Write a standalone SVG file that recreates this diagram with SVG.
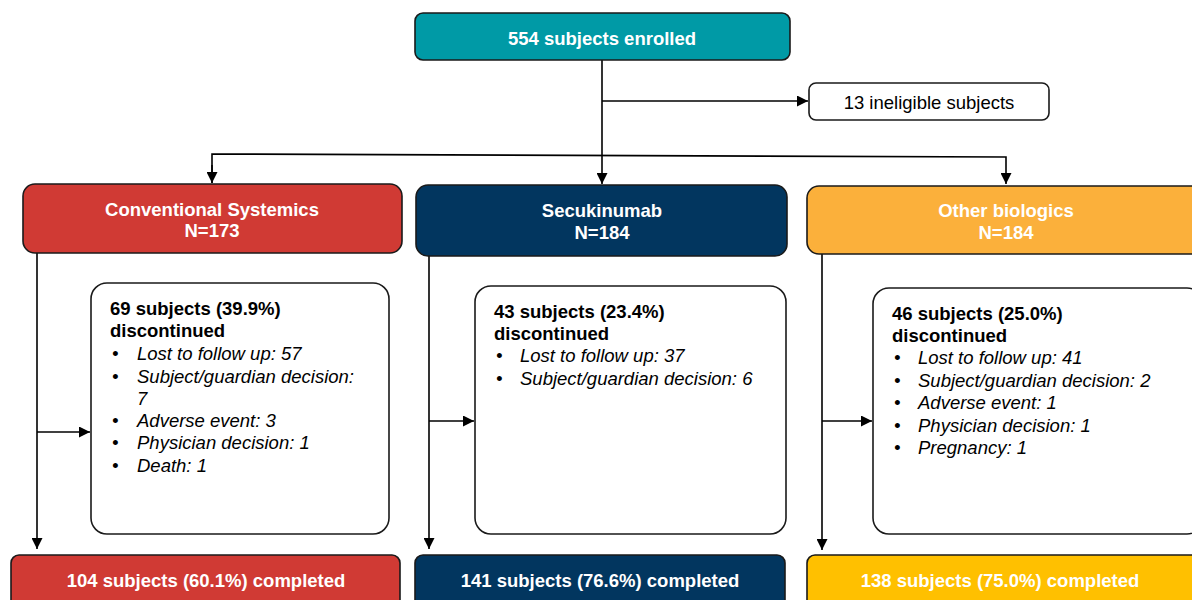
<svg xmlns="http://www.w3.org/2000/svg" width="1192" height="600" viewBox="0 0 1192 600">
<defs>
<marker id="arr" viewBox="0 0 10 10" refX="10" refY="5" markerWidth="11" markerHeight="11" markerUnits="userSpaceOnUse" orient="auto">
<path d="M0,0 L10,5 L0,10 z" fill="#000"/>
</marker>
<style>
.box{stroke:#1a1a1a;stroke-width:1.6}
.t{font-family:"Liberation Sans",Arial,sans-serif;font-size:18.5px}
.w{fill:#fff;font-weight:bold;text-anchor:middle}
.b{font-weight:bold;fill:#000}
.i{font-style:italic;fill:#000}
.c{fill:none;stroke:#000;stroke-width:1.6}
</style>
</defs>
<rect width="1192" height="600" fill="#fff"/>
<g id="connectors">
<path class="c" d="M602,60 V184" marker-end="url(#arr)"/>
<path class="c" d="M602,101 H808" marker-end="url(#arr)"/>
<path class="c" d="M212,183 V154 L1006,157 V184" marker-end="url(#arr)"/>
<path class="c" d="M212,165 V183" marker-end="url(#arr)"/>
<path class="c" d="M37,253 V549" marker-end="url(#arr)"/>
<path class="c" d="M37,432 H90" marker-end="url(#arr)"/>
<path class="c" d="M429,256 V549" marker-end="url(#arr)"/>
<path class="c" d="M429,421 H474" marker-end="url(#arr)"/>
<path class="c" d="M822,254 V550" marker-end="url(#arr)"/>
<path class="c" d="M822,421 H872" marker-end="url(#arr)"/>
</g>
<g id="enrolled">
<rect class="box" x="415" y="13" width="375" height="47" rx="8" fill="#009AA6"/>
<text class="t w" x="602" y="44.5">554 subjects enrolled</text>
</g>
<g id="ineligible">
<rect class="box" x="809" y="83" width="240" height="37" rx="7" fill="#fff"/>
<text class="t" x="929" y="108.5" text-anchor="middle" fill="#000">13 ineligible subjects</text>
</g>
<g id="conv">
<rect class="box" x="23" y="184" width="379" height="69" rx="12" fill="#D03A34"/>
<text class="t w" x="212" y="216">Conventional Systemics</text>
<text class="t w" x="212" y="237">N=173</text>
</g>
<g id="secu">
<rect class="box" x="416" y="185" width="371" height="71" rx="12" fill="#02365F"/>
<text class="t w" x="602" y="217">Secukinumab</text>
<text class="t w" x="602" y="239">N=184</text>
</g>
<g id="other">
<rect class="box" x="807" y="186" width="400" height="68" rx="12" fill="#FBB03B"/>
<text class="t w" x="1006" y="217">Other biologics</text>
<text class="t w" x="1006" y="239">N=184</text>
</g>
<g id="disc1">
<rect class="box" x="91" y="283" width="298" height="251" rx="16" fill="#fff"/>
<text class="t b" x="110" y="314.5">69 subjects (39.9%)</text>
<text class="t b" x="110" y="336.5">discontinued</text>
<g class="t i">
<text x="112" y="359.5"><tspan>•</tspan><tspan x="137">Lost to follow up: 57</tspan></text>
<text x="112" y="382.5"><tspan>•</tspan><tspan x="137">Subject/guardian decision:</tspan></text>
<text x="137" y="404.5">7</text>
<text x="112" y="426.5"><tspan>•</tspan><tspan x="137">Adverse event: 3</tspan></text>
<text x="112" y="448.5"><tspan>•</tspan><tspan x="137">Physician decision: 1</tspan></text>
<text x="112" y="471.5"><tspan>•</tspan><tspan x="137">Death: 1</tspan></text>
</g>
</g>
<g id="disc2">
<rect class="box" x="475" y="286" width="311" height="248" rx="16" fill="#fff"/>
<text class="t b" x="494" y="317.5">43 subjects (23.4%)</text>
<text class="t b" x="494" y="339.5">discontinued</text>
<g class="t i">
<text x="496" y="361.5"><tspan>•</tspan><tspan x="520">Lost to follow up: 37</tspan></text>
<text x="496" y="384.5"><tspan>•</tspan><tspan x="520">Subject/guardian decision: 6</tspan></text>
</g>
</g>
<g id="disc3">
<rect class="box" x="873" y="288" width="330" height="246" rx="16" fill="#fff"/>
<text class="t b" x="892" y="319.5">46 subjects (25.0%)</text>
<text class="t b" x="892" y="341.5">discontinued</text>
<g class="t i">
<text x="894" y="363.5"><tspan>•</tspan><tspan x="918">Lost to follow up: 41</tspan></text>
<text x="894" y="386.5"><tspan>•</tspan><tspan x="918">Subject/guardian decision: 2</tspan></text>
<text x="894" y="408.5"><tspan>•</tspan><tspan x="918">Adverse event: 1</tspan></text>
<text x="894" y="431.5"><tspan>•</tspan><tspan x="918">Physician decision: 1</tspan></text>
<text x="894" y="453.5"><tspan>•</tspan><tspan x="918">Pregnancy: 1</tspan></text>
</g>
</g>
<g id="comp1">
<rect class="box" x="11" y="555" width="389" height="60" rx="8" fill="#D03A34"/>
<text class="t w" x="206" y="586.5">104 subjects (60.1%) completed</text>
</g>
<g id="comp2">
<rect class="box" x="415" y="555" width="370" height="60" rx="8" fill="#02365F"/>
<text class="t w" x="600" y="586.5">141 subjects (76.6%) completed</text>
</g>
<g id="comp3">
<rect class="box" x="807" y="555" width="400" height="60" rx="8" fill="#FFC000"/>
<text class="t w" x="1000" y="586.5">138 subjects (75.0%) completed</text>
</g>
</svg>
